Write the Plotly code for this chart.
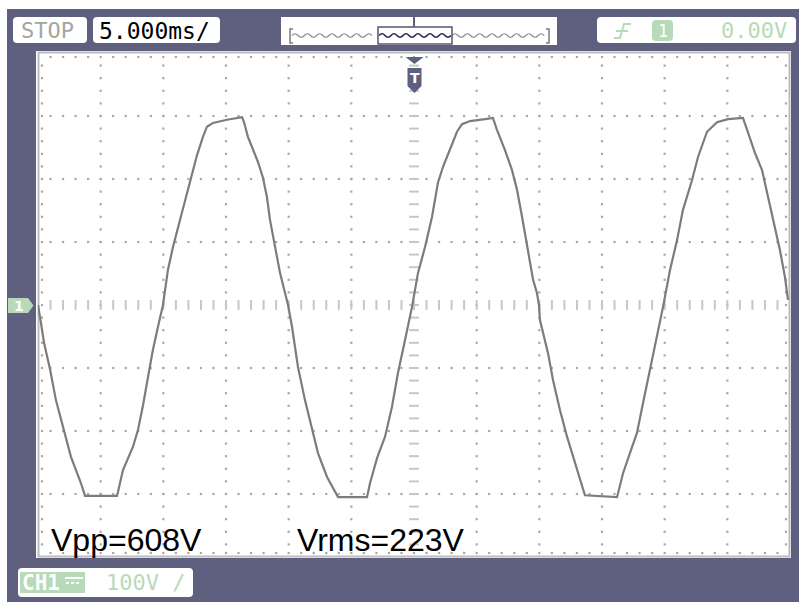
import plotly.graph_objects as go
import numpy as np

time_ms = [
    -30.00, -29.92, -29.76, -29.52, -29.04, -28.57, -27.93, -27.37, -26.57, -26.25,
    -23.70, -23.62, -23.22, -22.42, -22.02, -21.62, -21.22, -20.83, -20.43, -20.03,
    -19.63, -19.23, -18.67, -18.11, -17.71, -17.31, -16.84, -16.52, -16.04, -14.92,
    -13.72, -13.56, -13.25, -12.85, -12.45, -12.05, -11.73, -11.49, -11.09, -10.69,
    -10.29, -10.05,
    -9.73, -9.26, -8.70, -8.14, -7.66, -6.94, -6.30, -6.06, -3.75, -3.51,
    -2.95, -2.31, -1.76, -1.28, -0.72, -0.16, 0.32, 0.88, 1.44, 1.91,
    2.31, 2.87, 3.43, 3.83, 4.47, 5.67, 6.30, 6.62, 7.26, 7.82,
    8.22, 8.62, 9.02, 9.50, 9.81, 9.97,
    10.05, 10.69, 11.09, 11.65, 12.21, 12.85, 13.64, 16.20, 16.68, 17.23,
    17.79, 18.27, 18.83, 19.39, 19.87, 20.43, 20.99, 21.46, 22.18, 22.66,
    23.38, 24.18, 25.05, 26.25, 26.57, 27.21, 27.77, 28.17, 28.64, 29.20,
    29.60, 29.84,
]
volts = [
    0, -8, -29, -60, -102, -151, -200, -241, -283, -303,
    -303, -297, -262, -225, -198, -159, -114, -71, -35, 0,
    56, 92, 135, 178, 210, 238, 267, 283, 289, 294,
    298, 290, 267, 246, 227, 202, 171, 135, 92, 51,
    19, 0,
    -35, -98, -151, -198, -235, -273, -298, -305, -305, -283,
    -243, -209, -162, -108, -56, -3, 51, 92, 140, 194,
    219, 246, 275, 287, 292, 295, 297, 278, 246, 214,
    183, 140, 92, 40, 19, 0,
    -24, -76, -119, -167, -209, -251, -302, -305, -267, -235,
    -203, -156, -103, -51, -3, 56, 103, 151, 198, 235,
    275, 290, 295, 297, 278, 241, 214, 178, 135, 87,
    44, 8,
]

timebase_label = "5.000ms/"
run_state = "STOP"
trigger_level = "0.00V"
ch_scale = "100V /"
meas_vpp = "Vpp=608V"
meas_vrms = "Vrms=223V"

# ---------------- geometry ----------------
W, H = 799, 602
X0, X1 = 38, 790      # plot area in pixels
Y0, Y1 = 53, 557
T_RANGE = [-30, 30]
V_RANGE = [-400, 400]

FRAME = "#5f5f80"
GREEN = "#b8dab8"
GRID = "#a8a8a8"
TRACE = "#7c7c7c"


def px(x):
    return x / W


def py(y):
    return 1 - y / H


def path(points, close=True):
    s = "M " + " L ".join(f"{px(x):.5f},{py(y):.5f}" for x, y in points)
    return s + (" Z" if close else "")


def rrect(x0, y0, x1, y1, r):
    p = (f"M {px(x0 + r):.5f},{py(y0):.5f} L {px(x1 - r):.5f},{py(y0):.5f} "
         f"Q {px(x1):.5f},{py(y0):.5f} {px(x1):.5f},{py(y0 + r):.5f} "
         f"L {px(x1):.5f},{py(y1 - r):.5f} "
         f"Q {px(x1):.5f},{py(y1):.5f} {px(x1 - r):.5f},{py(y1):.5f} "
         f"L {px(x0 + r):.5f},{py(y1):.5f} "
         f"Q {px(x0):.5f},{py(y1):.5f} {px(x0):.5f},{py(y1 - r):.5f} "
         f"L {px(x0):.5f},{py(y0 + r):.5f} "
         f"Q {px(x0):.5f},{py(y0):.5f} {px(x0 + r):.5f},{py(y0):.5f} Z")
    return p


def wiggle(xa, xb, yc, amp, period):
    s = f"M {px(xa):.5f},{py(yc):.5f}"
    x = xa
    k = 0
    half = period / 2
    while x + half <= xb + 0.01:
        cy = yc - amp if k % 2 == 0 else yc + amp
        s += f" Q {px(x + half / 2):.5f},{py(cy):.5f} {px(x + half):.5f},{py(yc):.5f}"
        x += half
        k += 1
    return s


shapes = []
# outer dark frame
shapes.append(dict(type="rect", xref="paper", yref="paper", x0=px(7), x1=px(799), y0=py(602), y1=py(9),
                   fillcolor=FRAME, line=dict(width=0), layer="below"))
# plot area
shapes.append(dict(type="rect", xref="paper", yref="paper", x0=px(36), x1=px(791), y0=py(558), y1=py(51),
                   fillcolor="white", line=dict(width=0), layer="below"))
shapes.append(dict(type="rect", xref="paper", yref="paper", x0=px(38.5), x1=px(789.5), y0=py(556.5), y1=py(52.5),
                   fillcolor="rgba(0,0,0,0)", line=dict(color="#bcbcbc", width=2), layer="below"))

# top bar boxes
shapes.append(dict(type="path", xref="paper", yref="paper", path=rrect(13, 17, 87, 43, 4),
                   fillcolor="white", line=dict(width=0)))
shapes.append(dict(type="path", xref="paper", yref="paper", path=rrect(93, 17, 220, 43, 4),
                   fillcolor="white", line=dict(width=0)))
shapes.append(dict(type="rect", xref="paper", yref="paper", x0=px(281), x1=px(557), y0=py(45), y1=py(17),
                   fillcolor="white", line=dict(width=0)))
shapes.append(dict(type="path", xref="paper", yref="paper", path=rrect(597, 17, 796, 43, 4),
                   fillcolor="white", line=dict(width=0)))

# overview strip
shapes.append(dict(type="path", xref="paper", yref="paper",
                   path=path([(293, 29), (290, 29), (290, 43), (293, 43)], close=False),
                   line=dict(color="#7a7a7a", width=1.5)))
shapes.append(dict(type="path", xref="paper", yref="paper",
                   path=path([(546, 29), (549, 29), (549, 43), (546, 43)], close=False),
                   line=dict(color="#7a7a7a", width=1.5)))
shapes.append(dict(type="path", xref="paper", yref="paper", path=wiggle(292, 378, 35.5, 3.5, 12.3),
                   line=dict(color="#8a8a8a", width=1.2)))
shapes.append(dict(type="path", xref="paper", yref="paper", path=wiggle(452, 546, 35.5, 3.5, 12.3),
                   line=dict(color="#8a8a8a", width=1.2)))
shapes.append(dict(type="path", xref="paper", yref="paper", path=wiggle(379, 451, 35.5, 3.5, 12.0),
                   line=dict(color="#2c2c48", width=1.6)))
shapes.append(dict(type="rect", xref="paper", yref="paper", x0=px(378), x1=px(452), y0=py(44), y1=py(27),
                   fillcolor="rgba(0,0,0,0)", line=dict(color="#55556e", width=1.5)))
shapes.append(dict(type="line", xref="paper", yref="paper", x0=px(414), x1=px(414), y0=py(16), y1=py(27),
                   line=dict(color=FRAME, width=2)))
shapes.append(dict(type="rect", xref="paper", yref="paper", x0=px(407), x1=px(421), y0=py(17), y1=py(15),
                   fillcolor=FRAME, line=dict(width=0)))

# trigger edge glyph and source box
shapes.append(dict(type="path", xref="paper", yref="paper",
                   path=path([(614, 38), (620, 38), (624, 24), (631, 24)], close=False),
                   line=dict(color=GREEN, width=2)))
shapes.append(dict(type="line", xref="paper", yref="paper", x0=px(616), x1=px(628), y0=py(31), y1=py(31),
                   line=dict(color=GREEN, width=2)))
shapes.append(dict(type="path", xref="paper", yref="paper", path=rrect(652, 20, 673, 41, 4),
                   fillcolor=GREEN, line=dict(width=0)))

# trigger position marker (T)
shapes.append(dict(type="path", xref="paper", yref="paper",
                   path=path([(405.5, 57), (423.5, 57), (414.5, 64)]), fillcolor=FRAME, line=dict(width=0)))
shapes.append(dict(type="path", xref="paper", yref="paper",
                   path=path([(407.5, 68), (421.5, 68), (421.5, 86), (414.5, 93), (407.5, 86)]),
                   fillcolor=FRAME, line=dict(width=0)))

# channel 1 ground marker
shapes.append(dict(type="path", xref="paper", yref="paper",
                   path=path([(8, 298), (28, 298), (33.5, 305.5), (28, 313), (8, 313)]),
                   fillcolor=GREEN, line=dict(width=0)))

# bottom channel box
shapes.append(dict(type="path", xref="paper", yref="paper", path=rrect(18, 568, 193, 597, 4),
                   fillcolor="white", line=dict(width=0)))
shapes.append(dict(type="rect", xref="paper", yref="paper", x0=px(20), x1=px(85), y0=py(593), y1=py(572),
                   fillcolor=GREEN, line=dict(width=0)))
shapes.append(dict(type="line", xref="paper", yref="paper", x0=px(65), x1=px(83), y0=py(578), y1=py(578),
                   line=dict(color="white", width=2)))
for xa in (66, 71, 76):
    shapes.append(dict(type="line", xref="paper", yref="paper", x0=px(xa), x1=px(xa + 3), y0=py(583), y1=py(583),
                       line=dict(color="white", width=2)))

# ---------------- grid dots ----------------
ms_per_px = (T_RANGE[1] - T_RANGE[0]) / (X1 - X0)
v_per_px = (V_RANGE[1] - V_RANGE[0]) / (Y1 - Y0)
t_minor = np.arange(-29, 30, 1.0)
v_minor = np.arange(-380, 400, 20.0)

gx, gy = [], []
for v in range(-300, 400, 100):
    if v == 0:
        continue
    gx += list(t_minor)
    gy += [v] * len(t_minor)
for t in range(-25, 30, 5):
    if t == 0:
        continue
    gx += [t] * len(v_minor)
    gy += list(v_minor)
# border ticks
edge_v = V_RANGE[1] - 4 * v_per_px
edge_t = T_RANGE[1] - 4 * ms_per_px
gx += list(t_minor) * 2
gy += [edge_v] * len(t_minor) + [-edge_v] * len(t_minor)
gx += [-edge_t] * len(v_minor) + [edge_t] * len(v_minor)
gy += list(v_minor) * 2

fig = go.Figure()
fig.add_trace(go.Scatter(x=gx, y=gy, mode="markers", hoverinfo="skip",
                         marker=dict(symbol="square", size=2.2, color=GRID, line=dict(width=0))))
# centre axes tick marks
TICK = "#c6c6c6"
fig.add_trace(go.Scatter(x=list(t_minor), y=[0] * len(t_minor), mode="markers", hoverinfo="skip",
                         marker=dict(symbol="line-ns", size=7, color=TICK, line=dict(color=TICK, width=2))))
fig.add_trace(go.Scatter(x=[0] * len(v_minor), y=list(v_minor), mode="markers", hoverinfo="skip",
                         marker=dict(symbol="line-ew", size=7, color=TICK, line=dict(color=TICK, width=2))))
# waveform
fig.add_trace(go.Scatter(x=time_ms, y=volts, mode="lines", hoverinfo="skip",
                         line=dict(color=TRACE, width=2.2)))

MONO = "DejaVu Sans Mono"
ann = []


def text(x, y, s, size, color, family=MONO, anchor="left"):
    ann.append(dict(x=px(x), y=py(y), xref="paper", yref="paper", text=s, showarrow=False,
                    xanchor=anchor, yanchor="middle", font=dict(family=family, size=size, color=color)))


text(19, 30.5, run_state, 22, "#a4a4a4")
text(97, 30.5, timebase_label, 23, "black")
text(662.5, 31, "1", 17, "white", anchor="center")
text(719, 30.5, trigger_level, 22, GREEN)
text(414.5, 78, "<b>T</b>", 14, "white", family="DejaVu Sans", anchor="center")
text(19, 305.5, "<b>1</b>", 14, "white", family="DejaVu Sans", anchor="center")
text(20, 582.5, "<b>CH1</b>", 21, "white")
text(104, 582.5, ch_scale, 22, GREEN)
text(49, 540, meas_vpp, 32, "black", family="Liberation Sans")
text(295, 540, meas_vrms, 32, "black", family="Liberation Sans")

fig.update_layout(
    width=W, height=H, margin=dict(l=0, r=0, t=0, b=0),
    paper_bgcolor="white", plot_bgcolor="rgba(0,0,0,0)",
    showlegend=False, shapes=shapes, annotations=ann,
    xaxis=dict(range=T_RANGE, domain=[px(X0), px(X1)], visible=False, fixedrange=True),
    yaxis=dict(range=V_RANGE, domain=[py(Y1), py(Y0)], visible=False, fixedrange=True),
)

fig.write_html("out.html")
